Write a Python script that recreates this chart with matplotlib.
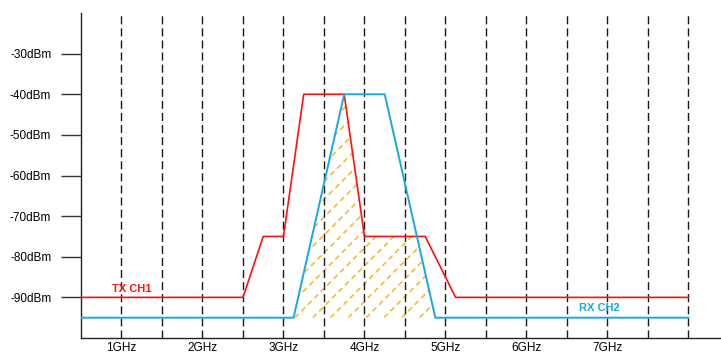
import numpy as np
import matplotlib
matplotlib.use('Agg')
import matplotlib.pyplot as plt
from matplotlib.lines import Line2D

plt.rcParams['font.family'] = ['Liberation Sans', 'DejaVu Sans']

# TX channel mask (GHz, dBm)
tx_f = [0.5, 2.5, 2.75, 3.0, 3.25, 3.75, 4.0, 4.75, 5.125, 8.0]
tx_p = [-90, -90, -75, -75, -40, -40, -75, -75, -90, -90]
# RX channel mask
rx_f = [0.5, 3.125, 3.75, 4.25, 4.875, 8.0]
rx_p = [-95, -95, -40, -40, -95, -95]

grid_f = np.arange(1.0, 8.01, 0.5)
xtick_f = [1, 2, 3, 4, 5, 6, 7]
xtick_lbl = ['1GHz', '2GHz', '3GHz', '4GHz', '5GHz', '6GHz', '7GHz']
ytick_p = [-90, -80, -70, -60, -50, -40, -30]
ytick_lbl = ['%ddBm' % v for v in ytick_p]

red = '#ff1010'
blue = '#1aa8e2'
hatch_col = '#f7b523'

fig = plt.figure(figsize=(7.21, 3.54), dpi=100)
ax = fig.add_axes([81/721, 16/354, 639/721, 325/354])
ax.set_xlim(0.5, 8.39)
ax.set_ylim(-100, -20)

for g in grid_f:
    ax.axvline(g, color='#1a1a1a', lw=1.0, dashes=(5.8, 2.9), zorder=3)

# overlap of the two masks, hatched
ff = np.linspace(0.5, 8.0, 3001)
low = np.minimum(np.interp(ff, tx_f, tx_p), np.interp(ff, rx_f, rx_p))
poly = ax.fill_between(ff, -95, low, where=low > -95, facecolor='none',
                       edgecolor='none', zorder=1)
fig.canvas.draw()
(x0, y0), (x1, y1) = ax.transData.transform([(0, -95), (1, -85)])
slope = (x1 - x0) / (y1 - y0) * 10  # dB per GHz for a 45 degree line
for c in np.arange(0.5, 5.5, 0.22):
    ln = Line2D([c, c + 4], [-95, -95 + 4 * slope], color=hatch_col, lw=1.1,
                dashes=(3.5, 2.5), zorder=2)
    ax.add_line(ln)
    ln.set_clip_path(poly.get_paths()[0], poly.get_transform())

ax.plot(tx_f, tx_p, color=red, lw=1.2, zorder=4)
ax.plot(rx_f, rx_p, color=blue, lw=1.4, zorder=4)

ax.text(1.13, -89.2, 'TX CH1', color=red, fontsize=8, fontweight='bold',
        ha='center', va='bottom')
ax.text(6.9, -92.6, 'RX CH2', color=blue, fontsize=8, fontweight='bold',
        ha='center', va='center')

for s in ['top', 'right']:
    ax.spines[s].set_visible(False)
for s in ['left', 'bottom']:
    ax.spines[s].set_linewidth(1.0)
    ax.spines[s].set_color('#222222')

ax.set_yticks(ytick_p)
ax.set_yticklabels(ytick_lbl)
ax.tick_params(axis='y', length=14.4, width=1.0, color='#333333', pad=7,
               labelsize=8.5)
ax.set_xticks(xtick_f)
ax.set_xticklabels(xtick_lbl)
ax.tick_params(axis='x', length=0, pad=3, labelsize=8.5)

fig.savefig('out.png', dpi=100)
